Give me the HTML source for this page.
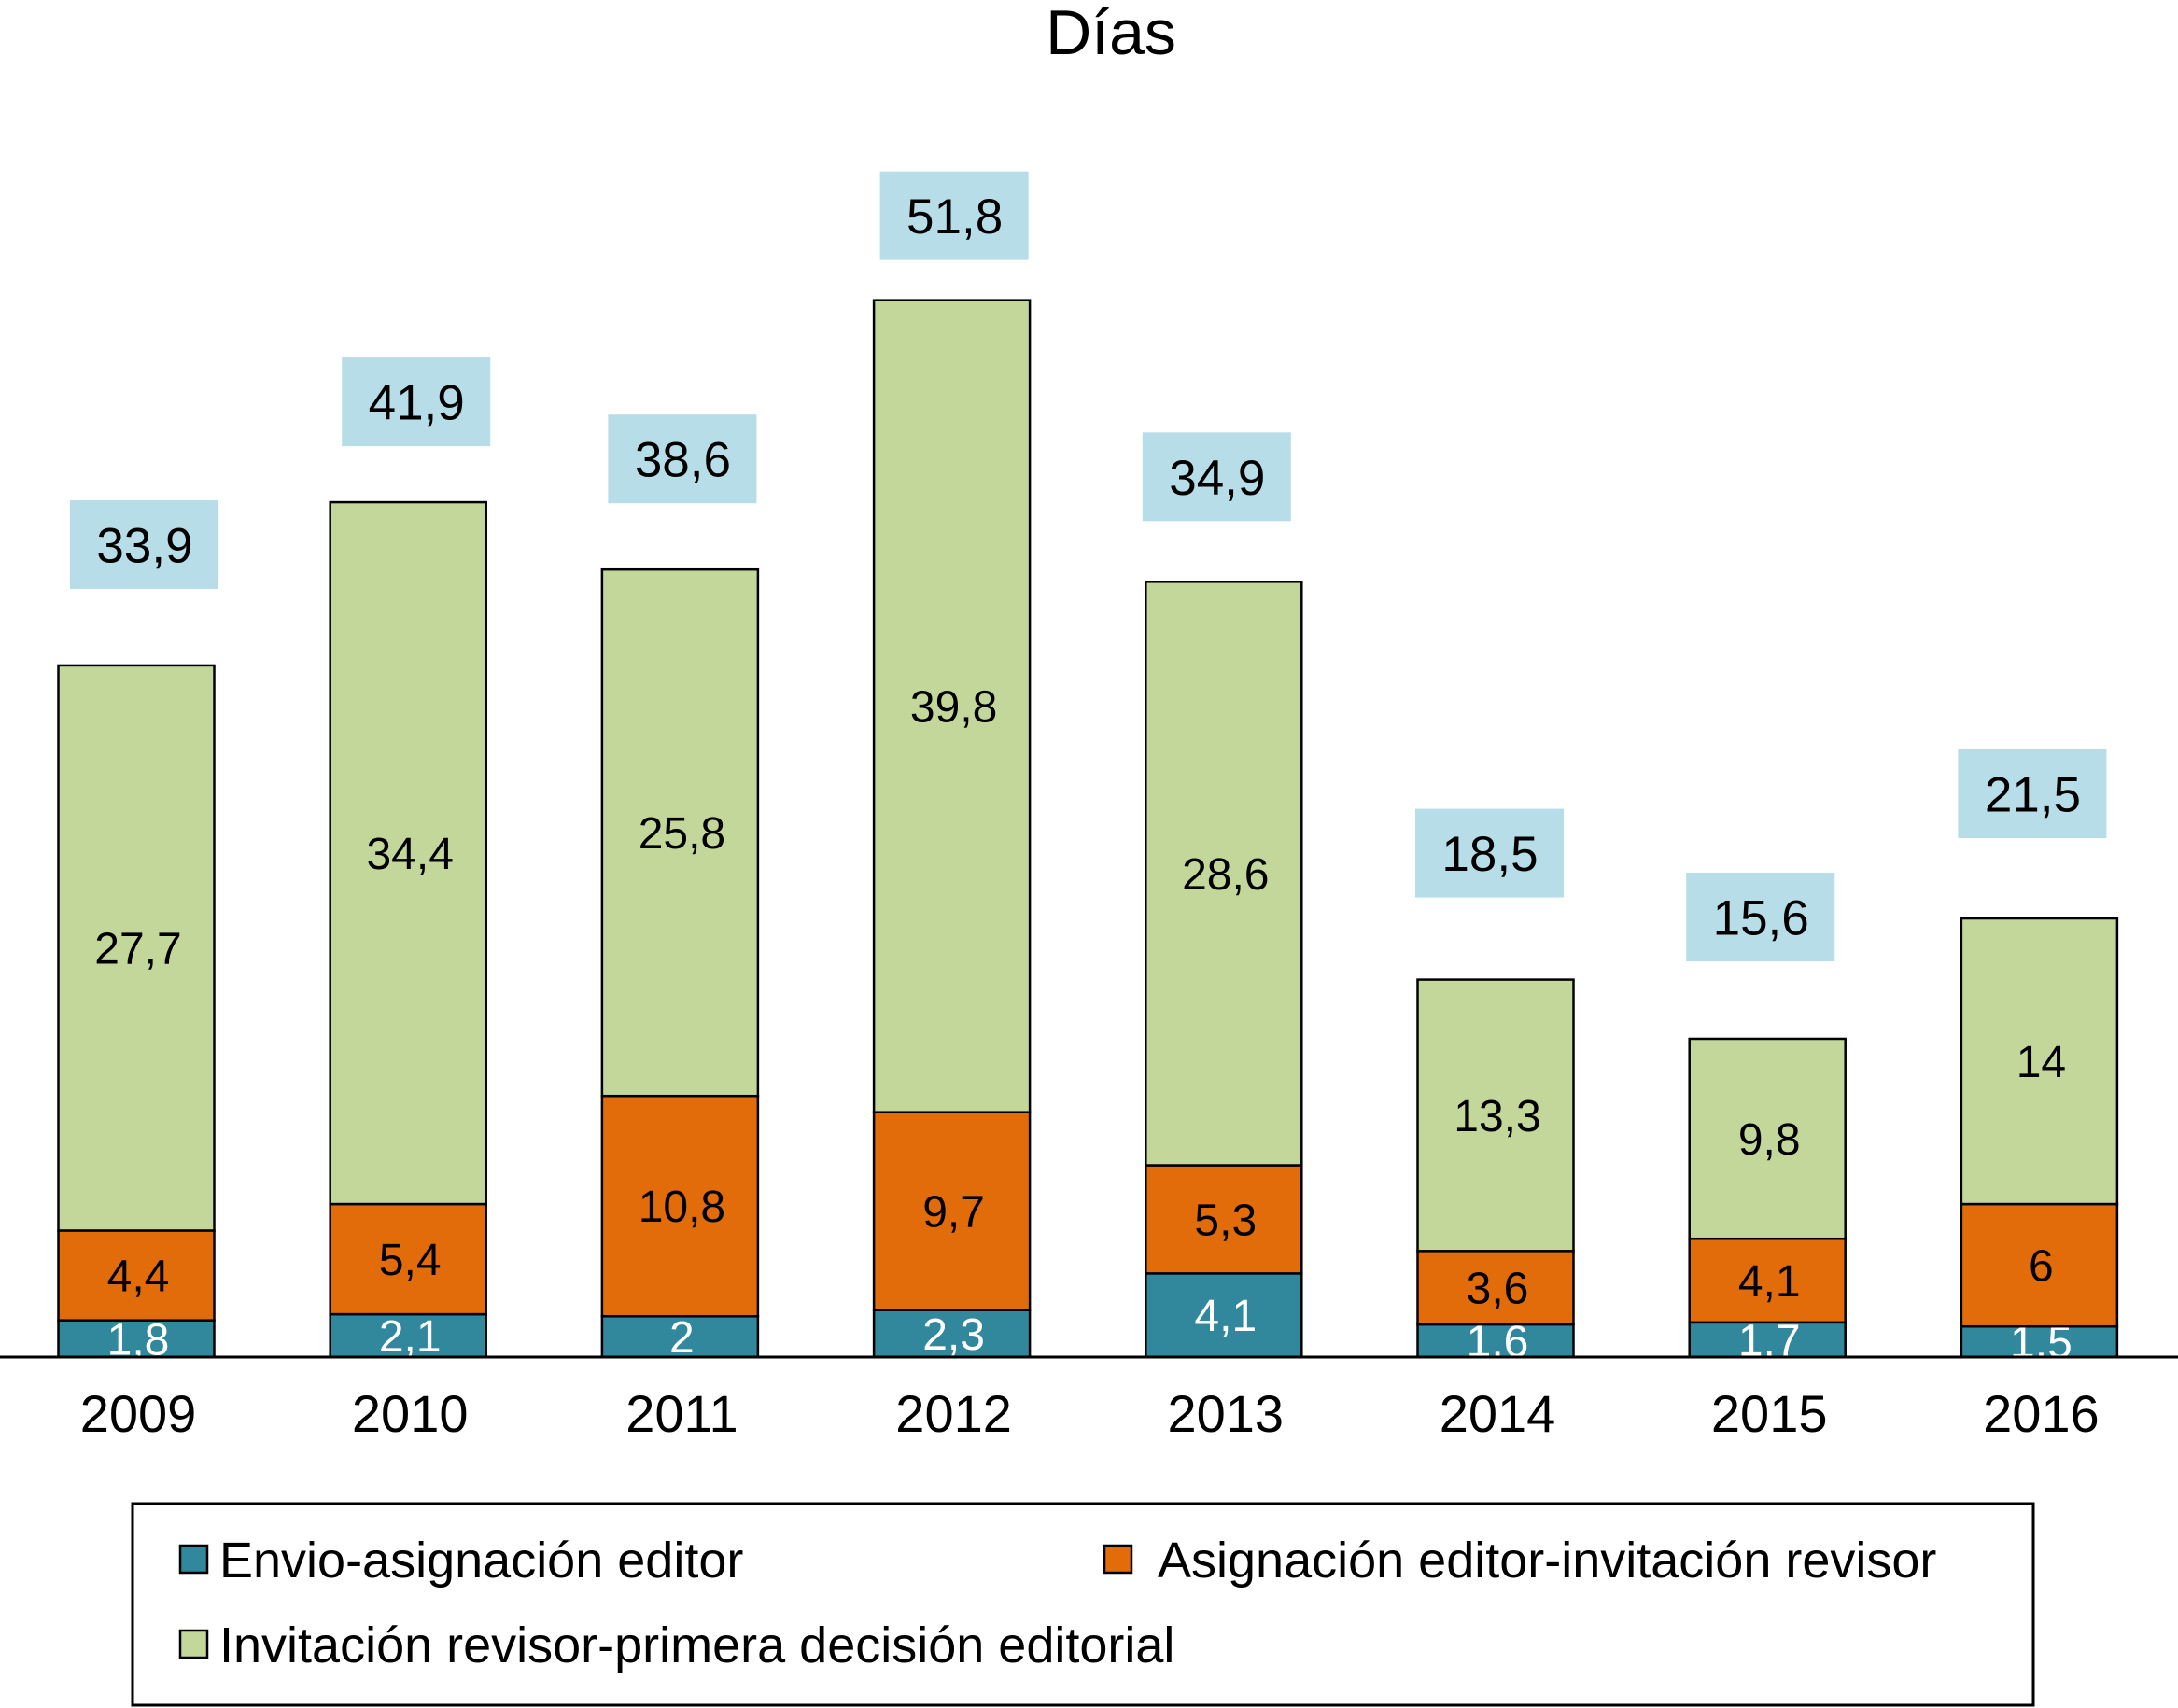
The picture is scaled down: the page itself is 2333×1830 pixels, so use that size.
<!DOCTYPE html>
<html><head><meta charset="utf-8"><style>
html,body{margin:0;padding:0;background:#fff;}
svg{display:block;font-family:"Liberation Sans",sans-serif;}
</style></head><body>
<svg id="chart" width="2333" height="1830" viewBox="0 0 2333 1830">
<text x="1190" y="58" font-size="68" text-anchor="middle">Días</text>
<g id="bars"></g>
<line x1="0" y1="1454" x2="2333" y2="1454" stroke="#000" stroke-width="3"/>
<g>
<rect x="142" y="1611" width="2036" height="216" fill="#fff" stroke="#000" stroke-width="3"/>
<g>
<rect x="193" y="1656" width="29" height="29" fill="#31879c" stroke="#000" stroke-width="2.5"/>
<text x="235" y="1690" font-size="54">Envio-asignación editor</text></g>
<g>
<rect x="1183" y="1656" width="29" height="29" fill="#e36c0a" stroke="#000" stroke-width="2.5"/>
<text x="1240" y="1690" font-size="54">Asignación editor-invitación revisor</text></g>
<g>
<rect x="193" y="1747" width="29" height="29" fill="#c4d79b" stroke="#000" stroke-width="2.5"/>
<text x="235" y="1781" font-size="54">Invitación revisor-primera decisión editorial</text></g>
</g>
</svg>
<script>
const categories = ["2009","2010","2011","2012","2013","2014","2015","2016"];
const envio = [1.8,2.1,2,2.3,4.1,1.6,1.7,1.5];
const asignacion = [4.4,5.4,10.8,9.7,5.3,3.6,4.1,6];
const invitacion = [27.7,34.4,25.8,39.8,28.6,13.3,9.8,14];
const totals = [33.9,41.9,38.6,51.8,34.9,18.5,15.6,21.5];
const fmt = v => String(v).replace('.', ',');
const baseY = 1454, pxPerUnit = 21.86;
const y = v => baseY - v * pxPerUnit;
const x = i => 146 + i * 291.2;
const barW = 167;
// label-box layout tweaks (pixel offsets, not data)
const boxGap = [82,60,71,43,65,88,83,86];
const boxDx = [9,9,3,3,-7,-6,-7,-7];
const NS = "http://www.w3.org/2000/svg";
const g = document.getElementById('bars');
function mk(tag, attrs){const e=document.createElementNS(NS,tag);for(const k in attrs)e.setAttribute(k,attrs[k]);return e;}
const series = [[envio,"#31879c","#fff","envio"],[asignacion,"#e36c0a","#000","asignacion"],[invitacion,"#c4d79b","#000","invitacion"]];
categories.forEach((c,i)=>{
  let acc = 0;
  series.forEach(([arr,col,tc,nm])=>{
    const v = arr[i];
    const r = mk('rect',{x:x(i)-barW/2,y:y(acc+v),width:barW,height:v*pxPerUnit,fill:col,stroke:"#000","stroke-width":2.5});
    
    
    g.appendChild(r);
    const t = mk('text',{x:x(i)+2,y:(y(acc)+y(acc+v))/2+17,"font-size":48,"text-anchor":"middle",fill:tc});
    t.textContent = fmt(v);
    
    
    g.appendChild(t);
    acc += v;
  });
  const top = y(acc);
  const cx = x(i) + boxDx[i];
  const b = mk('rect',{x:cx-80,y:top-boxGap[i]-95,width:159,height:95,fill:"#b7dde8"});
  
  
  g.appendChild(b);
  const tt = mk('text',{x:cx,y:top-boxGap[i]-95/2+19,"font-size":53,"text-anchor":"middle"});
  tt.textContent = fmt(totals[i]);
  
  
  g.appendChild(tt);
  const xl = mk('text',{x:x(i)+2,y:1534,"font-size":56,"text-anchor":"middle"});
  xl.textContent = c;
  
  
  g.appendChild(xl);
});
</script>
</body></html>
